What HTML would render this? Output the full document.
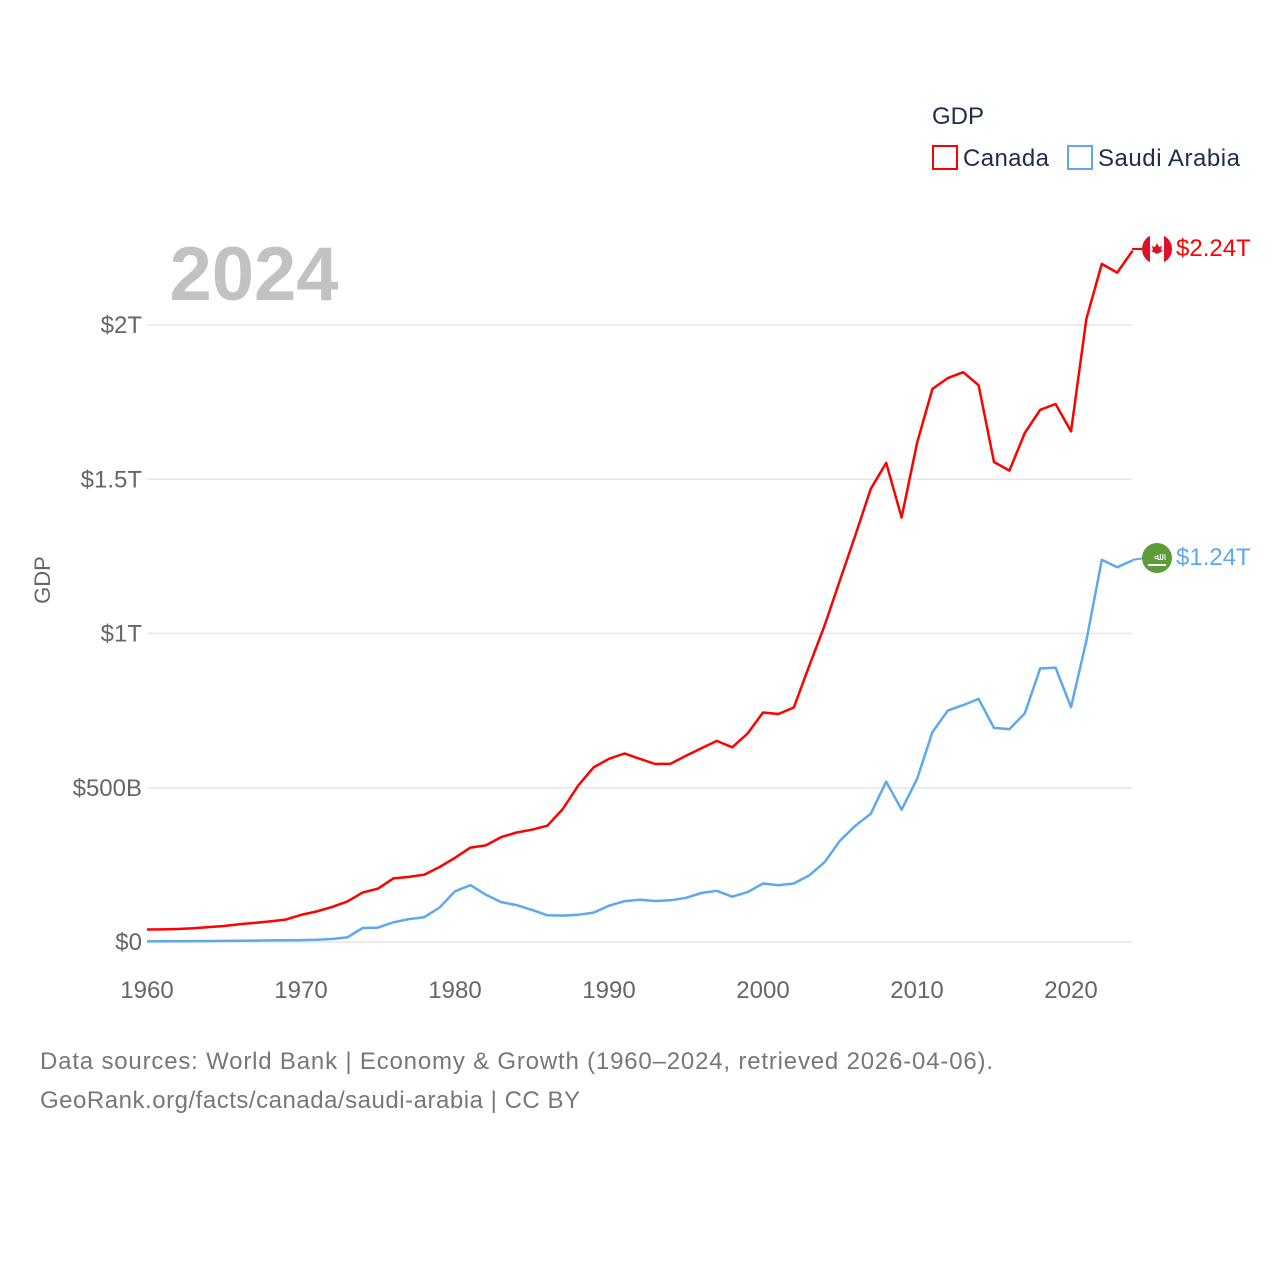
<!DOCTYPE html>
<html><head><meta charset="utf-8">
<style>
html,body{margin:0;padding:0;background:#fff;}
svg{display:block;font-family:"Liberation Sans",sans-serif;}
</style></head>
<body>
<svg id="chart" width="1280" height="1280" viewBox="0 0 1280 1280">
  <g id="grid"></g>
  <g id="yticks"></g>
  <g id="xticks"></g>
  <text x="254" y="300" font-size="76" font-weight="bold" fill="#c2c2c2" text-anchor="middle">2024</text>
  <text transform="translate(50,580) rotate(-90)" font-size="22" fill="#666" text-anchor="middle">GDP</text>
  <g>
    <text x="932" y="124" font-size="24" fill="#1f2d4d">GDP</text>
    <g>
      <rect x="933" y="146" width="24" height="23" fill="none" stroke="#ff0000" stroke-width="2"/>
      <text x="963" y="166" font-size="24" fill="#1f2d4d" textLength="86">Canada</text>
    </g>
    <g>
      <rect x="1068" y="146" width="24" height="23" fill="none" stroke="#5ea8ee" stroke-width="2"/>
      <text x="1098" y="166" font-size="24" fill="#1f2d4d" textLength="142">Saudi Arabia</text>
    </g>
  </g>
  <g id="series"></g>
  <line x1="1132" y1="249" x2="1145" y2="249" stroke="#ff0000" stroke-width="2"/>
  <line x1="1132" y1="560" x2="1145" y2="558" stroke="#5ea8ee" stroke-width="2"/>
  <g>
    <clipPath id="c1"><circle cx="1157" cy="249" r="15"/></clipPath>
    <g clip-path="url(#c1)">
      <rect x="1142" y="234" width="30" height="30" fill="#fff"/>
      <rect x="1142" y="234" width="8" height="30" fill="#e0102a"/>
      <rect x="1164" y="234" width="8" height="30" fill="#e0102a"/>
      <path d="M1157 243 l2 4 3-1 -1 4 2 1 -6 3 -6-3 2-1 -1-4 3 1z" fill="#e0102a"/>
    </g>
  </g>
  <g>
    <circle cx="1157" cy="558" r="15" fill="#5e9c3a"/>
    <text x="1157" y="560" font-size="10" fill="#fff" text-anchor="middle">ﷲ</text>
    <rect x="1148" y="564" width="18" height="2" fill="#fff"/>
  </g>
  <text x="1176" y="256" font-size="24" fill="#ff0000">$2.24T</text>
  <text x="1176" y="565" font-size="24" fill="#5ea8ee">$1.24T</text>
  <text x="40" y="1069" font-size="24" fill="#777" textLength="953">Data sources: World Bank | Economy &amp; Growth (1960–2024, retrieved 2026-04-06).</text>
  <text x="40" y="1108" font-size="24" fill="#777" textLength="540">GeoRank.org/facts/canada/saudi-arabia | CC BY</text>
</svg>
<script>
const years = [];
for (let y = 1960; y <= 2024; y++) years.push(y);
const canadaGDP = [40.5,41,42.2,44.4,48.2,52,57.5,61.9,66.9,72.6,87.9,99,113,131,160,173,206,211,218,243,273,306,313,340,355,364,377,431,507,566,594,611,594,577,578,604,628,652,631,676,744,739,760,895,1026,1173,1319,1469,1553,1376,1617,1793,1828,1847,1805,1556,1528,1650,1725,1744,1655,2020,2198,2170,2241];
const saudiGDP = [2,2.3,2.6,2.9,3.1,3.6,4.2,4.7,5.2,5.7,6,7.2,9.7,14.9,45.4,46.8,64,74.2,80.3,111.9,164.5,184.3,153.2,129.2,119.6,103.9,86.7,85.7,88.3,95.3,117.6,132.2,137.1,132.9,135.2,143.3,158.7,165.9,146.8,161.7,189.5,184.1,189.6,215.8,258.7,328.5,376.9,415.9,520,429,528,680,750,768,788,694,690,741,887,889,761,977,1239,1215,1237];
const yTickValues = [0,500,1000,1500,2000];
const yTickLabels = ["$0","$500B","$1T","$1.5T","$2T"];
const xTickValues = [1960,1970,1980,1990,2000,2010,2020];
const NS = "http://www.w3.org/2000/svg";
const xs = v => 147 + (v - 1960) * 15.4;
const ys = v => 942 - v * 0.3085;
function mk(tag, attrs, parent){const e=document.createElementNS(NS,tag);for(const k in attrs)e.setAttribute(k,attrs[k]);parent.appendChild(e);return e;}
const grid=document.getElementById('grid'), yt=document.getElementById('yticks'), xt=document.getElementById('xticks'), ser=document.getElementById('series');
yTickValues.forEach((v,i)=>{
  const l=mk('line',{x1:147,x2:1132,y1:ys(v),y2:ys(v),stroke:'#e6e6e6','stroke-width':1.5},grid);
  
  
  const t=mk('text',{x:142,y:ys(v)+8,'font-size':24,fill:'#666','text-anchor':'end'},yt);
  t.textContent=yTickLabels[i];
  
  
});
xTickValues.forEach(v=>{
  const t=mk('text',{x:xs(v),y:998,'font-size':24,fill:'#666','text-anchor':'middle'},xt);
  t.textContent=v;
  
  
});
function line(data,color,name){
  const d=data.map((v,i)=>(i?'L':'M')+xs(years[i]).toFixed(1)+' '+ys(v).toFixed(1)).join(' ');
  const p=mk('path',{d:d,fill:'none',stroke:color,'stroke-width':2.5,'stroke-linejoin':'round'},ser);
  
  
}
line(saudiGDP,'#5ea8ee','saudi-arabia-line');
line(canadaGDP,'#ff0000','canada-line');
</script>
</body></html>
